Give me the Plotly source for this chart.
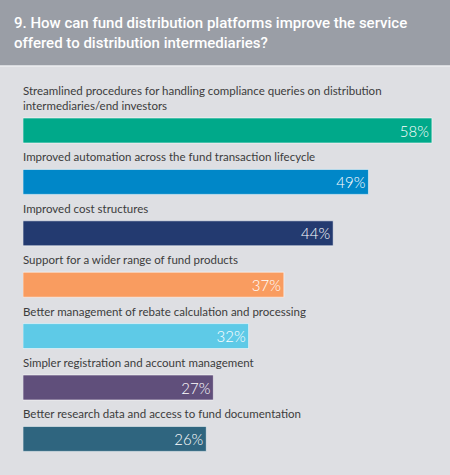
import plotly.graph_objects as go

categories = [
    "Streamlined procedures for handling compliance queries on distribution<br>intermediaries/end investors",
    "Improved automation across the fund transaction lifecycle",
    "Improved cost structures",
    "Support for a wider range of fund products",
    "Better management of rebate calculation and processing",
    "Simpler registration and account management",
    "Better research data and access to fund documentation",
]
values = [58, 49, 44, 37, 32, 27, 26]
colors = ["#00a98a", "#0087c8", "#233a70", "#f99c60", "#5ecae7", "#604f7b", "#2f657f"]
title_text = "9. How can fund distribution platforms improve the service<br>offered to distribution intermediaries?"

W, H = 450, 475
ML, MT = 23, 66
plot_h = H - MT
plot_w = W - ML
unit = 51.4
top_off = 64.5 / unit
y_top = -top_off
y_bot = y_top + plot_h / unit

pos = list(range(len(values)))

fig = go.Figure()
fig.add_trace(go.Bar(
    x=values, y=pos, orientation="h",
    marker=dict(color=colors, line=dict(color="rgba(255,255,255,0.55)", width=1)),
    width=0.486,
    text=[f"{v}%" for v in values],
    textposition="inside", insidetextanchor="end",
    textfont=dict(family="Lato, Roboto, sans-serif", size=15, color="white", weight=300),
    cliponaxis=False, hoverinfo="skip",
))

annotations = []
for i, c in enumerate(categories):
    annotations.append(dict(
        x=0, y=i - 0.243, xref="x", yref="y", text=c, showarrow=False,
        xanchor="left", yanchor="bottom", align="left", yshift=4, xshift=-2,
        font=dict(family="Lato, Roboto, sans-serif", size=11.5, color="#3c3c3c"),
    ))

annotations.append(dict(
    x=-11 / plot_w, y=1 + (MT - 12) / plot_h, xref="paper", yref="paper",
    text=title_text, showarrow=False, xanchor="left", yanchor="top", align="left",
    font=dict(family="Roboto, sans-serif", size=15, color="white", weight=500),
))

fig.update_layout(
    width=W, height=H,
    margin=dict(l=ML, r=0, t=MT, b=0, pad=0),
    paper_bgcolor="#dedfe3", plot_bgcolor="#dedfe3",
    showlegend=False,
    xaxis=dict(range=[0, plot_w / 7.05], visible=False, fixedrange=True),
    yaxis=dict(range=[y_bot, y_top], visible=False, fixedrange=True),
    annotations=annotations,
    shapes=[
        dict(type="rect", xref="paper", yref="paper", x0=-ML / plot_w, x1=1,
             y0=1, y1=1 + MT / plot_h, fillcolor="#9a9ea6", line=dict(width=0), layer="below"),
        dict(type="line", xref="paper", yref="paper", x0=-ML / plot_w, x1=1,
             y0=1, y1=1, line=dict(color="#eceef0", width=1.5), layer="below"),
    ],
)

fig.write_html("out.html")
